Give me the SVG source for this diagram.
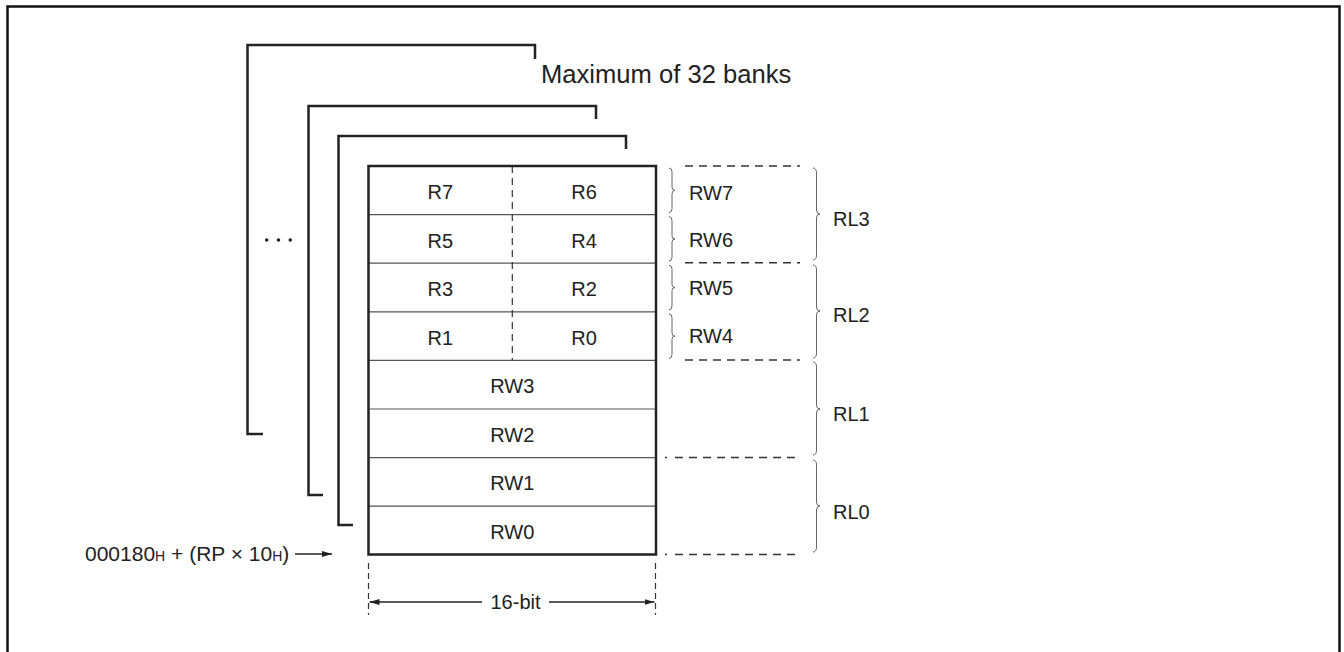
<svg xmlns="http://www.w3.org/2000/svg" width="1344" height="652" viewBox="0 0 1344 652">
<defs>
<style>
.frame{fill:none;stroke:#111;stroke-width:2.5}
.bank{fill:none;stroke:#222;stroke-width:2.5}
.row{stroke:#555;stroke-width:1.2}
.div{stroke:#333;stroke-width:1.2;stroke-dasharray:7 5}
.dash{stroke:#333;stroke-width:1.5;stroke-dasharray:8 6;fill:none}
.brace{fill:none;stroke:#666;stroke-width:1}
.lbl{font-family:"Liberation Sans",Arial,sans-serif;font-size:20px;fill:#222}
.addr{font-size:21px}
.big{font-family:"Liberation Sans",Arial,sans-serif;font-size:25.6px;fill:#222}
.sub{font-size:14px}
.arr{stroke:#222;stroke-width:1.4;fill:none}
</style>
<marker id="ah" viewBox="0 0 10 6" refX="10" refY="3" markerWidth="10" markerHeight="6" markerUnits="userSpaceOnUse" orient="auto-start-reverse">
<path d="M0,0 L10,3 L0,6 Z" fill="#222"/>
</marker>
</defs>
<rect id="outer-frame" class="frame" x="7.5" y="6.5" width="1332" height="660"/>

<g id="bank-back">
<path class="bank" d="M263,434 H247.5 V45 H535 V59"/>
<text class="big" x="541" y="83">Maximum of 32 banks</text>
</g>
<g id="bank-second"><path class="bank" d="M323,495 H308.5 V106 H596 V119"/></g>
<g id="bank-third"><path class="bank" d="M353,525 H338.5 V136 H626 V149"/></g>
<g id="ellipsis">
<circle cx="266.7" cy="240" r="1.8" fill="#222"/>
<circle cx="278.5" cy="240" r="1.8" fill="#222"/>
<circle cx="290.3" cy="240" r="1.8" fill="#222"/>
</g>

<g id="register-bank">
<line class="row" x1="368.5" y1="214.6" x2="656" y2="214.6"/>
<line class="row" x1="368.5" y1="263.2" x2="656" y2="263.2"/>
<line class="row" x1="368.5" y1="311.8" x2="656" y2="311.8"/>
<line class="row" x1="368.5" y1="360.4" x2="656" y2="360.4"/>
<line class="row" x1="368.5" y1="409" x2="656" y2="409"/>
<line class="row" x1="368.5" y1="457.6" x2="656" y2="457.6"/>
<line class="row" x1="368.5" y1="506.2" x2="656" y2="506.2"/>
<line class="div" x1="512.3" y1="166" x2="512.3" y2="360.4"/>
<rect class="bank" x="368.5" y="166" width="287.5" height="388.5"/>
<g class="lbl" text-anchor="middle">
<text x="440.4" y="199">R7</text><text x="584" y="199">R6</text>
<text x="440.4" y="247.5">R5</text><text x="584" y="247.5">R4</text>
<text x="440.4" y="296">R3</text><text x="584" y="296">R2</text>
<text x="440.4" y="344.5">R1</text><text x="584" y="344.5">R0</text>
<text x="512.3" y="393">RW3</text>
<text x="512.3" y="441.5">RW2</text>
<text x="512.3" y="490">RW1</text>
<text x="512.3" y="538.5">RW0</text>
</g>
</g>

<g id="rw-braces">
<path class="brace" d="M669,168 Q672,168 672,172 V187 Q672,190.3 675,190.3 Q672,190.3 672,194 V208.6 Q672,212.6 669,212.6"/>
<path class="brace" d="M669,216.6 Q672,216.6 672,220.6 V236 Q672,239 675,239 Q672,239 672,242 V257.2 Q672,261.2 669,261.2"/>
<path class="brace" d="M669,265.2 Q672,265.2 672,269.2 V284.5 Q672,287.5 675,287.5 Q672,287.5 672,290.5 V305.8 Q672,309.8 669,309.8"/>
<path class="brace" d="M669,313.8 Q672,313.8 672,317.8 V333 Q672,336.1 675,336.1 Q672,336.1 672,339.1 V354.4 Q672,358.4 669,358.4"/>
<g class="lbl">
<text x="689" y="199.5">RW7</text>
<text x="689" y="247">RW6</text>
<text x="689" y="294.5">RW5</text>
<text x="689" y="342.5">RW4</text>
</g>
</g>

<g id="rl-braces">
<path class="dash" d="M685,166 H800 M685,262.8 H800 M685,360 H800"/>
<path class="dash" d="M665,457.6 H667 M675,457.6 H800 M665,554.5 H667 M675,554.5 H800"/>
<path class="brace" d="M813,168 Q816.5,168 816.5,173 V210 Q816.5,214 820,214 Q816.5,214 816.5,218 V255 Q816.5,260 813,260"/>
<path class="brace" d="M813,265 Q816.5,265 816.5,270 V307 Q816.5,311 820,311 Q816.5,311 816.5,315 V353 Q816.5,358 813,358"/>
<path class="brace" d="M813,362 Q816.5,362 816.5,367 V405 Q816.5,409 820,409 Q816.5,409 816.5,413 V450 Q816.5,455 813,455"/>
<path class="brace" d="M813,460 Q816.5,460 816.5,465 V502 Q816.5,506 820,506 Q816.5,506 816.5,510 V547 Q816.5,552 813,552"/>
<g class="lbl">
<text x="833" y="226">RL3</text>
<text x="833" y="322">RL2</text>
<text x="833" y="421">RL1</text>
<text x="833" y="519">RL0</text>
</g>
</g>

<g id="address-label">
<text class="lbl addr" x="85" y="561">000180<tspan class="sub">H</tspan> + (RP × 10<tspan class="sub">H</tspan>)</text>
</g>

<g id="width-label">
<path class="dash" style="stroke-dasharray:6 4;stroke-width:1.2" d="M368.5,563 V615 M655.5,563 V615"/>
<text class="lbl" x="515.5" y="609" text-anchor="middle">16-bit</text>
</g>

<g id="connectors">
<line class="arr" x1="295" y1="554" x2="332" y2="554" marker-end="url(#ah)"/>
<line class="arr" x1="369.5" y1="602" x2="482" y2="602" marker-start="url(#ah)"/>
<line class="arr" x1="549" y1="602" x2="654.5" y2="602" marker-end="url(#ah)"/>
</g>
</svg>
